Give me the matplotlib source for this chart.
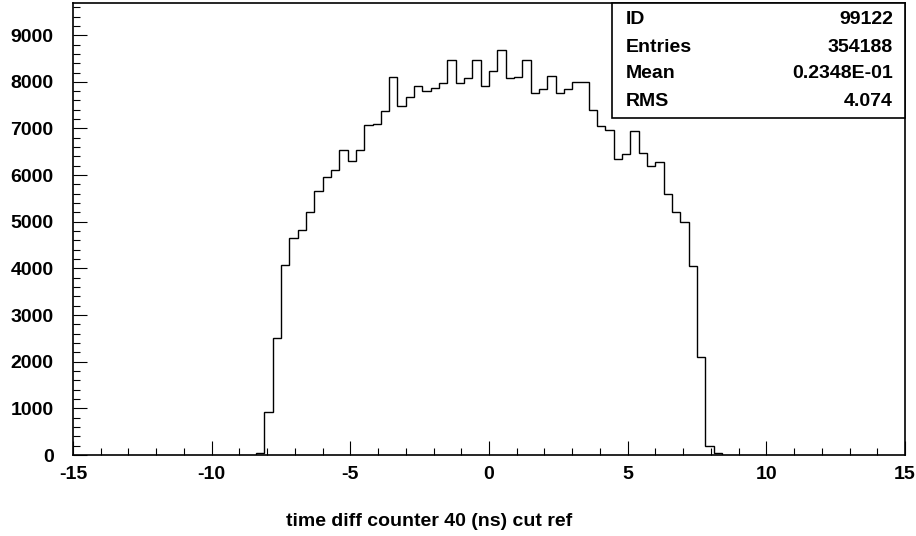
import numpy as np
import matplotlib.pyplot as plt
from matplotlib.patches import Rectangle
from matplotlib.ticker import MultipleLocator

plt.rcParams["font.family"] = ["Liberation Sans", "DejaVu Sans"]
plt.rcParams["font.weight"] = "bold"
plt.rcParams["axes.unicode_minus"] = False

# histogram 99122: time diff counter 40, 0.3 ns bins, only the filled range
bin_lo = -8.4
bin_width = 0.3
counts = [
    40, 915, 2500, 4080, 4650, 4830, 5200, 5670, 5960, 6120,
    6540, 6310, 6540, 7080, 7100, 7370, 8110, 7480, 7670, 7915,
    7800, 7870, 7980, 8470, 7985, 8085, 8460, 7915, 8230, 8690,
    8085, 8100, 8465, 7760, 7850, 8120, 7750, 7840, 8000, 8000,
    7405, 7060, 6975, 6345, 6445, 6945, 6470, 6205, 6275, 5600,
    5215, 4985, 4045, 2105, 190, 40,
]
stat_names = ["ID", "Entries", "Mean", "RMS"]
stat_values = ["99122", "354188", "0.2348E-01", "4.074"]

edges = bin_lo + bin_width * np.arange(len(counts) + 1)

W, H = 916, 536
fig = plt.figure(figsize=(W / 100, H / 100), dpi=100)
ax = fig.add_axes([73 / W, 1 - 455 / H, (905 - 73) / W, (455 - 3) / H])

ax.stairs(counts, edges, color="black", linewidth=1.0)

ax.set_xlim(-15, 15)
ax.set_ylim(0, 9690)
ax.xaxis.set_major_locator(MultipleLocator(5))
ax.xaxis.set_minor_locator(MultipleLocator(1))
ax.yaxis.set_major_locator(MultipleLocator(1000))
ax.yaxis.set_minor_locator(MultipleLocator(200))
ax.tick_params(which="both", direction="in", top=False, right=False,
               labelsize=14, width=0.8)
ax.tick_params(which="major", length=10)
ax.tick_params(which="minor", length=5)
ax.tick_params(axis="x", pad=8)
ax.tick_params(axis="y", pad=14)
for sp in ax.spines.values():
    sp.set_linewidth(1.2)

fig.text(429 / W, 1 - 521 / H, "time diff counter 40 (ns) cut ref",
         ha="center", va="center", fontsize=14, fontweight="bold")

# stats box in the upper right corner
fig.patches.append(Rectangle((612 / W, 1 - 118 / H), (905 - 612) / W, (118 - 3) / H,
                             transform=fig.transFigure, facecolor="white",
                             edgecolor="black", linewidth=1.2, zorder=5))
for i, (name, val) in enumerate(zip(stat_names, stat_values)):
    y = 1 - (20 + 27 * i) / H
    fig.text(626 / W, y, name, ha="left", va="center", fontsize=14,
             fontweight="bold", zorder=6)
    fig.text(893 / W, y, val, ha="right", va="center", fontsize=14,
             fontweight="bold", zorder=6)

fig.savefig("out.png", dpi=100)
